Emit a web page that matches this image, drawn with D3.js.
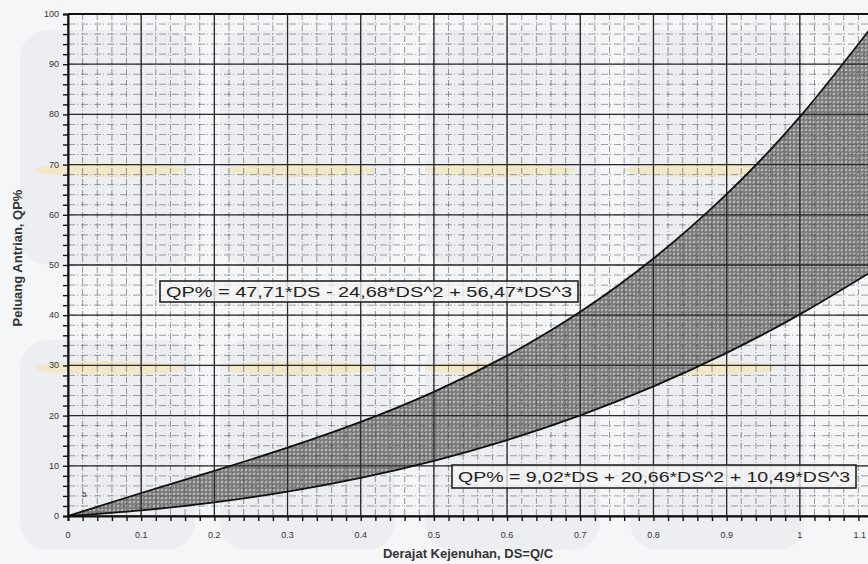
<!DOCTYPE html>
<html>
<head>
<meta charset="utf-8">
<script src="https://cdn.jsdelivr.net/npm/d3@7/dist/d3.min.js"></script>
<style>
  body { margin: 0; background: #f3f4f6; }
  svg { display: block; font-family: "Liberation Sans", Arial, sans-serif; }
</style>
</head>
<body>
<div id="chart"></div>
<script>
// Derajat kejenuhan (DS) sampled along the x axis
const ds = [0, 0.1, 0.2, 0.3, 0.4, 0.5, 0.6, 0.7, 0.8, 0.9, 1.0, 1.1];
// upper bound: QP% = 47,71*DS - 24,68*DS^2 + 56,47*DS^3 (read at each DS)
const qpUpper = [0, 4.58, 9.01, 13.62, 18.75, 24.74, 31.94, 40.67, 51.29, 64.11, 79.50, 97.78];
// lower bound: QP% = 9,02*DS + 20,66*DS^2 + 10,49*DS^3
const qpLower = [0, 1.12, 2.71, 4.85, 7.59, 10.99, 15.12, 20.04, 25.81, 32.50, 40.17, 48.88];

const xTicks = [0, 0.1, 0.2, 0.3, 0.4, 0.5, 0.6, 0.7, 0.8, 0.9, 1, 1.1];
const xTickLabels = ["0", "0.1", "0.2", "0.3", "0.4", "0.5", "0.6", "0.7", "0.8", "0.9", "1", "1.1"];
const yTicks = [0, 10, 20, 30, 40, 50, 60, 70, 80, 90, 100];

const eqUpper = "QP% = 47,71*DS - 24,68*DS^2 + 56,47*DS^3";
const eqLower = "QP% = 9,02*DS + 20,66*DS^2 + 10,49*DS^3";

const W = 868, H = 564;

const svg = d3.select("#chart").append("svg")
    .attr("width", W)
    .attr("height", H);

// faint scanned-page watermark
const wm = svg.append("g");
wm.append("rect").attr("width", W).attr("height", H).attr("fill", "#f5f6f8");
[[20, 30, 175, 235], [220, 30, 175, 235], [425, 30, 175, 235], [630, 30, 175, 235],
 [20, 340, 175, 210], [220, 340, 175, 210], [425, 340, 175, 210], [630, 340, 175, 210]]
    .forEach(r => wm.append("rect")
        .attr("x", r[0]).attr("y", r[1]).attr("width", r[2]).attr("height", r[3])
        .attr("rx", 28).attr("fill", "#eceef1"));
[170, 368].forEach(cy => [110, 300, 500, 700].forEach(cx =>
    wm.append("ellipse").attr("cx", cx).attr("cy", cy).attr("rx", 75).attr("ry", 7)
        .attr("fill", "#f5e4b0").attr("opacity", 0.6)));

const x = d3.scaleLinear().domain([0, 1.1]).range([68, 873]);
const y = d3.scaleLinear().domain([0, 100]).range([516, 14]);

// shaded band between the two curves
const defs = svg.append("defs");
const pat = defs.append("pattern").attr("id", "hatch")
    .attr("width", 4).attr("height", 4).attr("patternUnits", "userSpaceOnUse");
pat.append("rect").attr("width", 4).attr("height", 4).attr("fill", "#858585");
pat.append("circle").attr("cx", 2).attr("cy", 2).attr("r", 1).attr("fill", "#c4c4c4");
pat.append("circle").attr("cx", 0).attr("cy", 0).attr("r", 0.8).attr("fill", "#4a4a4a");
pat.append("circle").attr("cx", 4).attr("cy", 4).attr("r", 0.8).attr("fill", "#4a4a4a");

const band = ds.map((d, i) => ({ ds: d, lo: qpLower[i], hi: qpUpper[i] }));
const area = d3.area()
    .x(d => x(d.ds)).y0(d => y(d.lo)).y1(d => y(d.hi))
    .curve(d3.curveNatural);
svg.append("path").datum(band)
    .attr("d", area)
    .attr("fill", "url(#hatch)");

// graph paper grid (printed over the shading, as on the scan)
const grid = svg.append("g");
const xMinor = d3.range(0, 1.1001, 0.02);
const yMinor = d3.range(0, 100.001, 2);
grid.selectAll(".vx").data(xMinor).join("line")
    .attr("x1", d => x(d)).attr("x2", d => x(d))
    .attr("y1", y(100)).attr("y2", y(0))
    .attr("stroke", "#444").attr("stroke-width", 0.9)
    .attr("stroke-dasharray", "6,2,1,2").attr("opacity", 0.6);
grid.selectAll(".hy").data(yMinor).join("line")
    .attr("y1", d => y(d)).attr("y2", d => y(d))
    .attr("x1", x(0)).attr("x2", x(1.1))
    .attr("stroke", "#444").attr("stroke-width", 0.9)
    .attr("stroke-dasharray", "7,2,1,3").attr("opacity", 0.55);
grid.selectAll(".vmaj").data(xTicks).join("line")
    .attr("x1", d => x(d)).attr("x2", d => x(d))
    .attr("y1", y(100)).attr("y2", y(0))
    .attr("stroke", "#2a2a2a").attr("stroke-width", 1.3);
grid.selectAll(".hmaj").data(yTicks).join("line")
    .attr("y1", d => y(d)).attr("y2", d => y(d))
    .attr("x1", x(0)).attr("x2", x(1.1))
    .attr("stroke", "#2a2a2a").attr("stroke-width", 1.3);

const line = d3.line().curve(d3.curveNatural);
[qpUpper, qpLower].forEach(vals => {
    svg.append("path")
        .attr("d", line(ds.map((d, i) => [x(d), y(vals[i])])))
        .attr("fill", "none")
        .attr("stroke", "#111")
        .attr("stroke-width", 1.8);
});

// axes
const xAxis = svg.append("g").attr("transform", `translate(0,${y(0)})`)
    .call(d3.axisBottom(x).tickValues(xMinor).tickSize(5).tickFormat(""));
const yAxis = svg.append("g").attr("transform", `translate(${x(0)},0)`)
    .call(d3.axisLeft(y).tickValues(yMinor).tickSize(5).tickFormat(""));
[xAxis, yAxis].forEach(a => {
    a.select(".domain").attr("stroke", "#111").attr("stroke-width", 2);
    a.selectAll(".tick line").attr("stroke", "#111").attr("stroke-width", 1.4);
});
svg.append("line").attr("x1", x(0)).attr("x2", x(1.1))
    .attr("y1", y(100)).attr("y2", y(100))
    .attr("stroke", "#111").attr("stroke-width", 1.8);

svg.append("g").selectAll("text").data(xTicks).join("text")
    .attr("x", d => Math.min(x(d), 866)).attr("y", 538)
    .attr("text-anchor", d => x(d) > 866 ? "end" : "middle")
    .attr("font-size", 9).attr("fill", "#333")
    .text((d, i) => xTickLabels[i]);
svg.append("g").selectAll("text").data(yTicks).join("text")
    .attr("x", 59).attr("y", d => y(d) + 3)
    .attr("text-anchor", "end")
    .attr("font-size", 9).attr("fill", "#333")
    .text(d => d);

svg.append("text").attr("x", 82).attr("y", 497)
    .attr("font-size", 8).attr("fill", "#333").text("5");

svg.append("text")
    .attr("x", 468).attr("y", 558)
    .attr("text-anchor", "middle")
    .attr("font-size", 13).attr("font-weight", "bold").attr("fill", "#333")
    .text("Derajat Kejenuhan, DS=Q/C");
svg.append("text")
    .attr("transform", "translate(22,258) rotate(-90)")
    .attr("text-anchor", "middle")
    .attr("font-size", 13).attr("font-weight", "bold").attr("fill", "#333")
    .text("Peluang Antrian, QP%");

// equation labels
function eqBox(txt, bx, by, bw, bh) {
    const g = svg.append("g");
    g.append("rect").attr("x", bx).attr("y", by).attr("width", bw).attr("height", bh)
        .attr("fill", "#f4f4f4").attr("fill-opacity", 0.75)
        .attr("stroke", "#222").attr("stroke-width", 1.6);
    g.append("text").attr("x", bx + 6).attr("y", by + bh / 2 + 5.5)
        .attr("font-size", 15).attr("fill", "#222")
        .attr("textLength", bw - 12).attr("lengthAdjust", "spacingAndGlyphs")
        .text(txt);
}
eqBox(eqUpper, 160, 281, 418, 21);
eqBox(eqLower, 452, 465, 404, 23);
</script>
</body>
</html>
